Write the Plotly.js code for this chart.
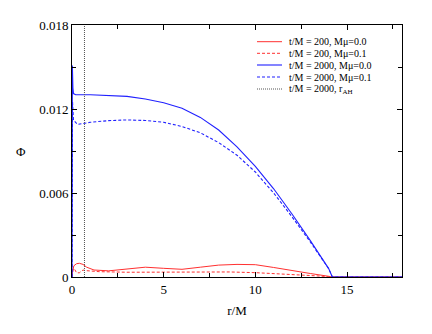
<!DOCTYPE html>
<html>
<head>
<meta charset="utf-8">
<script src="https://cdn.plot.ly/plotly-3.0.1.min.js"></script>
<style>
  html, body { margin: 0; padding: 0; background: #fff; }
  #plot { width: 432px; height: 334px; }
</style>
</head>
<body>
<div id="plot"></div>
<script>
// values
const rRed0 = [0, 0.02, 0.1, 0.25, 0.4, 0.6, 0.8, 1.2, 2, 3, 4, 5, 6, 7, 8, 9, 10, 11, 12, 13, 14, 14.2, 18];
const phiRed0 = [0, 0.0003, 0.0008, 0.00095, 0.00098, 0.0009, 0.0007, 0.0005, 0.00044, 0.00055, 0.0007, 0.00062, 0.00055, 0.0007, 0.00085, 0.0009, 0.00088, 0.00068, 0.00045, 0.00025, 0.00005, 0, 0];

const rRed1 = [0, 0.05, 0.12, 0.25, 0.4, 0.6, 0.8, 1.5, 3, 5, 7, 8.6, 10, 11, 12.6, 13.5, 14.2, 18];
const phiRed1 = [0, 0.0005, 0.0006, 0.0003, 0.0003, 0.0005, 0.00045, 0.00038, 0.00034, 0.00035, 0.00038, 0.00036, 0.00031, 0.00025, 0.00015, 0.00007, 0, 0];

const rBlue0 = [0, 0.02, 0.05, 0.08, 0.2, 1, 2, 3, 4, 5, 6, 7, 8, 9, 10, 11, 12, 13, 14, 14.2, 18];
const phiBlue0 = [0, 0.0151, 0.0135, 0.0131, 0.01302, 0.01302, 0.01298, 0.0129, 0.01272, 0.01245, 0.01205, 0.0114, 0.0105, 0.0093, 0.0079, 0.0063, 0.0045, 0.0026, 0.0006, 0, 0];

const rBlue1 = [0, 0.03, 0.08, 0.3, 1, 2, 3, 4, 5, 6, 7, 8, 9, 10, 11, 12, 13, 14, 14.2, 18];
const phiBlue1 = [0, 0.0125, 0.0112, 0.0109, 0.01105, 0.01117, 0.01122, 0.01118, 0.01105, 0.01075, 0.0103, 0.0096, 0.0087, 0.0075, 0.006, 0.0043, 0.0025, 0.0006, 0, 0];

const rAH = 0.68;
const phiAH = [0, 0.018];

const names = [
  't/M = 200, Mμ=0.0',
  't/M = 200, Mμ=0.1',
  't/M = 2000, Mμ=0.0',
  't/M = 2000, Mμ=0.1',
  't/M = 2000, r<sub>AH</sub>'
];

const RED = '#ff3030';
const BLUE = '#2020ff';
const GRAY = '#555';
const DASH = '3px,2px';

const styles = [
  { color: RED, width: 1, dash: 'solid' },
  { color: RED, width: 1, dash: DASH },
  { color: BLUE, width: 1.1, dash: 'solid' },
  { color: BLUE, width: 1.1, dash: DASH },
  { color: GRAY, width: 1, dash: '1px,1px' },
];

const xs = [rRed0, rRed1, rBlue0, rBlue1, [rAH, rAH]];
const ys = [phiRed0, phiRed1, phiBlue0, phiBlue1, phiAH];

const traces = xs.map((x, i) => ({
  type: 'scatter', mode: 'lines', x, y: ys[i], name: names[i],
  line: styles[i], showlegend: false,
}));

const font = { family: '"Liberation Serif", "Times New Roman", serif', color: '#000' };

// hand-made legend (compact rows like the original)
const legendRows = [41.7, 53.3, 65, 77, 89];
const px2x = px => (px - 72) / 330;
const px2y = py => (277 - py) / 252;
const shapes = [];
const annotations = [];
names.forEach((name, i) => {
  const yy = px2y(legendRows[i]);
  shapes.push({
    type: 'line', xref: 'paper', yref: 'paper',
    x0: px2x(257), x1: px2x(282), y0: yy, y1: yy,
    line: styles[i],
  });
  annotations.push({
    text: name, xref: 'paper', yref: 'paper',
    x: px2x(287), y: yy, xanchor: 'left', yanchor: 'middle',
    showarrow: false, font: Object.assign({ size: 10 }, font),
  });
});
annotations.push({
  text: 'Φ', xref: 'paper', yref: 'paper', x: -0.155, y: 0.5,
  xanchor: 'center', yanchor: 'middle',
  showarrow: false, font: Object.assign({ size: 13 }, font),
});

const layout = {
  width: 432,
  height: 334,
  margin: { l: 72, r: 30, t: 25, b: 57 },
  paper_bgcolor: '#fff',
  plot_bgcolor: '#fff',
  font: Object.assign({ size: 13 }, font),
  showlegend: false,
  xaxis: {
    range: [0, 18],
    tickvals: [0, 5, 10, 15],
    ticks: 'inside', ticklen: 5, tickcolor: '#000',
    minor: { tickvals: [2.5, 7.5, 12.5, 17.5], ticks: 'inside', ticklen: 4, tickcolor: '#000' },
    showline: true, linecolor: '#000', linewidth: 1, mirror: 'ticks',
    showgrid: false, zeroline: false,
    title: { text: 'r/M', font: Object.assign({ size: 13 }, font), standoff: 10 },
  },
  yaxis: {
    range: [0, 0.018],
    tickvals: [0, 0.006, 0.012, 0.018],
    ticktext: ['0', '0.006', '0.012', '0.018'],
    ticks: 'inside', ticklen: 5, tickcolor: '#000',
    minor: { tickvals: [0.003, 0.009, 0.015], ticks: 'inside', ticklen: 4, tickcolor: '#000' },
    showline: true, linecolor: '#000', linewidth: 1, mirror: 'ticks',
    showgrid: false, zeroline: false,
  },
  shapes,
  annotations,
};

Plotly.newPlot('plot', traces, layout, { displayModeBar: false, staticPlot: true });
</script>
</body>
</html>
